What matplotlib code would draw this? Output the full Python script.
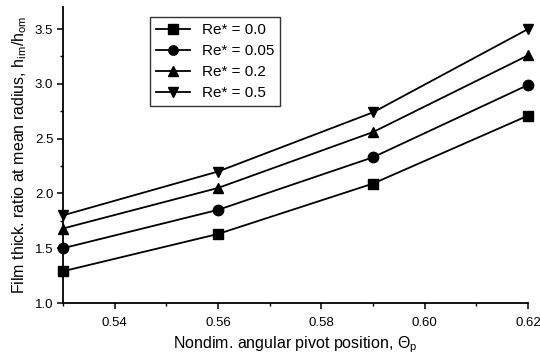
import matplotlib
matplotlib.use("Agg")
import matplotlib.pyplot as plt
from matplotlib.ticker import MultipleLocator

plt.rcParams['font.family'] = ['Liberation Sans', 'DejaVu Sans']
plt.rcParams['mathtext.fontset'] = 'custom'
plt.rcParams['mathtext.rm'] = 'Liberation Sans'
plt.rcParams['mathtext.it'] = 'Liberation Sans'

theta_p = [0.53, 0.56, 0.59, 0.62]
re_00 = [1.29, 1.63, 2.09, 2.71]
re_005 = [1.50, 1.85, 2.33, 2.99]
re_02 = [1.68, 2.05, 2.56, 3.26]
re_05 = [1.80, 2.20, 2.74, 3.50]
labels = ["Re* = 0.0", "Re* = 0.05", "Re* = 0.2", "Re* = 0.5"]
markers = ["s", "o", "^", "v"]

fig = plt.figure(figsize=(5.4, 3.58), dpi=100)
ax = fig.add_axes([0.1167, 0.1536, 0.8611, 0.8264])

for ys, m, lab in zip([re_00, re_005, re_02, re_05], markers, labels):
    ax.plot(theta_p, ys, color='black', lw=1.3, marker=m, markersize=7.5, label=lab, clip_on=False)

ax.set_xlim(0.53, 0.62)
ax.set_ylim(1.0, 3.7)
ax.xaxis.set_minor_locator(MultipleLocator(0.01))
ax.yaxis.set_major_locator(MultipleLocator(0.5))
ax.yaxis.set_minor_locator(MultipleLocator(0.25))
ax.set_xticks([0.54, 0.56, 0.58, 0.60, 0.62])
ax.set_xticklabels(["0.54", "0.56", "0.58", "0.60", "0.62"])
ax.tick_params(which='major', direction='out', length=4, width=1.1, labelsize=9.5, pad=3)
ax.tick_params(axis='x', which='major', pad=6)
ax.tick_params(which='minor', direction='out', length=2, width=1)

for s in ['top', 'right']:
    ax.spines[s].set_visible(False)
for s in ['left', 'bottom']:
    ax.spines[s].set_linewidth(1.3)

ax.set_xlabel(r"Nondim. angular pivot position, $\Theta_\mathrm{p}$", fontsize=11.5, labelpad=4)
ax.set_ylabel(r"Film thick. ratio at mean radius, h$_\mathrm{im}$/h$_\mathrm{om}$", fontsize=11.5, labelpad=4)

leg = ax.legend(loc='upper left', bbox_to_anchor=(0.187, 0.966), borderaxespad=0,
                fontsize=11, frameon=True, fancybox=False, edgecolor='black',
                handlelength=2.2, labelspacing=0.45, markerscale=0.9)
leg.get_frame().set_linewidth(1.0)

fig.savefig("out.png", dpi=100)
